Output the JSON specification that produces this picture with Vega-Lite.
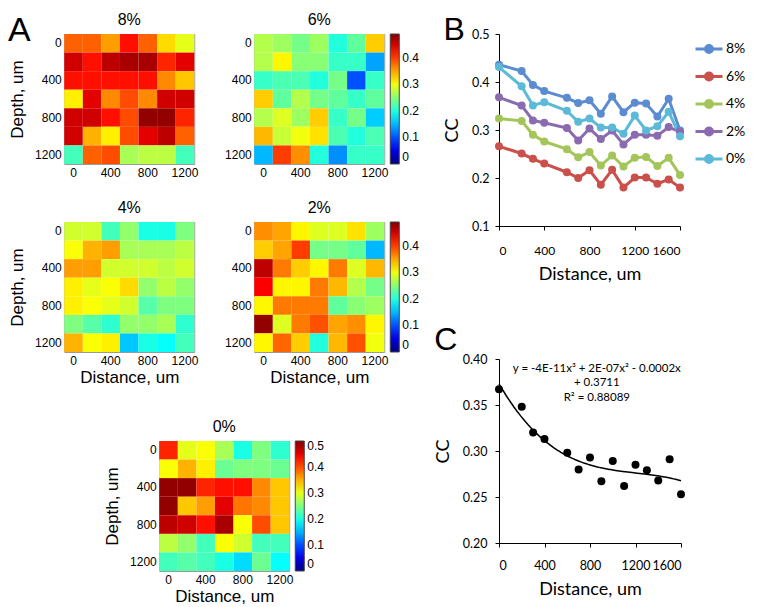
{
"$schema":"https://vega.github.io/schema/vega-lite/v6.json",
"padding":{"left":8,"top":6,"right":4,"bottom":0},
"config":{
 "font":"Liberation Sans",
 "view":{"stroke":"#9a9a9a"},
 "axis":{"grid":false,"domain":false,"ticks":false,"labelFontSize":12,"titleFontSize":17,"titleFontWeight":"normal","labelColor":"#000","titleColor":"#000","labelPadding":3,"titlePadding":3},
 "title":{"fontSize":16,"fontWeight":"normal","offset":6,"color":"#000"},
 "legend":{"padding":0}
},
"datasets":{
"heat":[
{"panel":"8%","depth":0,"dist":0,"cc":0.39},{"panel":"8%","depth":0,"dist":200,"cc":0.39},{"panel":"8%","depth":0,"dist":400,"cc":0.36},{"panel":"8%","depth":0,"dist":600,"cc":0.43},{"panel":"8%","depth":0,"dist":800,"cc":0.39},{"panel":"8%","depth":0,"dist":1000,"cc":0.33},{"panel":"8%","depth":0,"dist":1200,"cc":0.30},
{"panel":"8%","depth":200,"dist":0,"cc":0.46},{"panel":"8%","depth":200,"dist":200,"cc":0.43},{"panel":"8%","depth":200,"dist":400,"cc":0.47},{"panel":"8%","depth":200,"dist":600,"cc":0.48},{"panel":"8%","depth":200,"dist":800,"cc":0.48},{"panel":"8%","depth":200,"dist":1000,"cc":0.42},{"panel":"8%","depth":200,"dist":1200,"cc":0.45},
{"panel":"8%","depth":400,"dist":0,"cc":0.43},{"panel":"8%","depth":400,"dist":200,"cc":0.43},{"panel":"8%","depth":400,"dist":400,"cc":0.43},{"panel":"8%","depth":400,"dist":600,"cc":0.43},{"panel":"8%","depth":400,"dist":800,"cc":0.43},{"panel":"8%","depth":400,"dist":1000,"cc":0.37},{"panel":"8%","depth":400,"dist":1200,"cc":0.34},
{"panel":"8%","depth":600,"dist":0,"cc":0.32},{"panel":"8%","depth":600,"dist":200,"cc":0.45},{"panel":"8%","depth":600,"dist":400,"cc":0.37},{"panel":"8%","depth":600,"dist":600,"cc":0.40},{"panel":"8%","depth":600,"dist":800,"cc":0.37},{"panel":"8%","depth":600,"dist":1000,"cc":0.46},{"panel":"8%","depth":600,"dist":1200,"cc":0.46},
{"panel":"8%","depth":800,"dist":0,"cc":0.46},{"panel":"8%","depth":800,"dist":200,"cc":0.46},{"panel":"8%","depth":800,"dist":400,"cc":0.43},{"panel":"8%","depth":800,"dist":600,"cc":0.40},{"panel":"8%","depth":800,"dist":800,"cc":0.49},{"panel":"8%","depth":800,"dist":1000,"cc":0.49},{"panel":"8%","depth":800,"dist":1200,"cc":0.42},
{"panel":"8%","depth":1000,"dist":0,"cc":0.46},{"panel":"8%","depth":1000,"dist":200,"cc":0.35},{"panel":"8%","depth":1000,"dist":400,"cc":0.32},{"panel":"8%","depth":1000,"dist":600,"cc":0.40},{"panel":"8%","depth":1000,"dist":800,"cc":0.45},{"panel":"8%","depth":1000,"dist":1000,"cc":0.47},{"panel":"8%","depth":1000,"dist":1200,"cc":0.39},
{"panel":"8%","depth":1200,"dist":0,"cc":0.22},{"panel":"8%","depth":1200,"dist":200,"cc":0.39},{"panel":"8%","depth":1200,"dist":400,"cc":0.40},{"panel":"8%","depth":1200,"dist":600,"cc":0.27},{"panel":"8%","depth":1200,"dist":800,"cc":0.28},{"panel":"8%","depth":1200,"dist":1000,"cc":0.28},{"panel":"8%","depth":1200,"dist":1200,"cc":0.22},

{"panel":"6%","depth":0,"dist":0,"cc":0.27},{"panel":"6%","depth":0,"dist":200,"cc":0.26},{"panel":"6%","depth":0,"dist":400,"cc":0.24},{"panel":"6%","depth":0,"dist":600,"cc":0.26},{"panel":"6%","depth":0,"dist":800,"cc":0.20},{"panel":"6%","depth":0,"dist":1000,"cc":0.23},{"panel":"6%","depth":0,"dist":1200,"cc":0.33},
{"panel":"6%","depth":200,"dist":0,"cc":0.27},{"panel":"6%","depth":200,"dist":200,"cc":0.31},{"panel":"6%","depth":200,"dist":400,"cc":0.25},{"panel":"6%","depth":200,"dist":600,"cc":0.25},{"panel":"6%","depth":200,"dist":800,"cc":0.21},{"panel":"6%","depth":200,"dist":1000,"cc":0.21},{"panel":"6%","depth":200,"dist":1200,"cc":0.14},
{"panel":"6%","depth":400,"dist":0,"cc":0.21},{"panel":"6%","depth":400,"dist":200,"cc":0.22},{"panel":"6%","depth":400,"dist":400,"cc":0.22},{"panel":"6%","depth":400,"dist":600,"cc":0.20},{"panel":"6%","depth":400,"dist":800,"cc":0.24},{"panel":"6%","depth":400,"dist":1000,"cc":0.10},{"panel":"6%","depth":400,"dist":1200,"cc":0.21},
{"panel":"6%","depth":600,"dist":0,"cc":0.33},{"panel":"6%","depth":600,"dist":200,"cc":0.23},{"panel":"6%","depth":600,"dist":400,"cc":0.27},{"panel":"6%","depth":600,"dist":600,"cc":0.24},{"panel":"6%","depth":600,"dist":800,"cc":0.23},{"panel":"6%","depth":600,"dist":1000,"cc":0.21},{"panel":"6%","depth":600,"dist":1200,"cc":0.23},
{"panel":"6%","depth":800,"dist":0,"cc":0.27},{"panel":"6%","depth":800,"dist":200,"cc":0.29},{"panel":"6%","depth":800,"dist":400,"cc":0.26},{"panel":"6%","depth":800,"dist":600,"cc":0.33},{"panel":"6%","depth":800,"dist":800,"cc":0.21},{"panel":"6%","depth":800,"dist":1000,"cc":0.24},{"panel":"6%","depth":800,"dist":1200,"cc":0.16},
{"panel":"6%","depth":1000,"dist":0,"cc":0.34},{"panel":"6%","depth":1000,"dist":200,"cc":0.28},{"panel":"6%","depth":1000,"dist":400,"cc":0.30},{"panel":"6%","depth":1000,"dist":600,"cc":0.32},{"panel":"6%","depth":1000,"dist":800,"cc":0.22},{"panel":"6%","depth":1000,"dist":1000,"cc":0.20},{"panel":"6%","depth":1000,"dist":1200,"cc":0.22},
{"panel":"6%","depth":1200,"dist":0,"cc":0.15},{"panel":"6%","depth":1200,"dist":200,"cc":0.40},{"panel":"6%","depth":1200,"dist":400,"cc":0.36},{"panel":"6%","depth":1200,"dist":600,"cc":0.20},{"panel":"6%","depth":1200,"dist":800,"cc":0.13},{"panel":"6%","depth":1200,"dist":1000,"cc":0.21},{"panel":"6%","depth":1200,"dist":1200,"cc":0.21},

{"panel":"4%","depth":0,"dist":0,"cc":0.29},{"panel":"4%","depth":0,"dist":200,"cc":0.29},{"panel":"4%","depth":0,"dist":400,"cc":0.22},{"panel":"4%","depth":0,"dist":600,"cc":0.26},{"panel":"4%","depth":0,"dist":800,"cc":0.20},{"panel":"4%","depth":0,"dist":1000,"cc":0.20},{"panel":"4%","depth":0,"dist":1200,"cc":0.25},
{"panel":"4%","depth":200,"dist":0,"cc":0.31},{"panel":"4%","depth":200,"dist":200,"cc":0.35},{"panel":"4%","depth":200,"dist":400,"cc":0.36},{"panel":"4%","depth":200,"dist":600,"cc":0.27},{"panel":"4%","depth":200,"dist":800,"cc":0.27},{"panel":"4%","depth":200,"dist":1000,"cc":0.27},{"panel":"4%","depth":200,"dist":1200,"cc":0.28},
{"panel":"4%","depth":400,"dist":0,"cc":0.36},{"panel":"4%","depth":400,"dist":200,"cc":0.36},{"panel":"4%","depth":400,"dist":400,"cc":0.29},{"panel":"4%","depth":400,"dist":600,"cc":0.29},{"panel":"4%","depth":400,"dist":800,"cc":0.29},{"panel":"4%","depth":400,"dist":1000,"cc":0.28},{"panel":"4%","depth":400,"dist":1200,"cc":0.29},
{"panel":"4%","depth":600,"dist":0,"cc":0.32},{"panel":"4%","depth":600,"dist":200,"cc":0.30},{"panel":"4%","depth":600,"dist":400,"cc":0.31},{"panel":"4%","depth":600,"dist":600,"cc":0.33},{"panel":"4%","depth":600,"dist":800,"cc":0.26},{"panel":"4%","depth":600,"dist":1000,"cc":0.28},{"panel":"4%","depth":600,"dist":1200,"cc":0.26},
{"panel":"4%","depth":800,"dist":0,"cc":0.32},{"panel":"4%","depth":800,"dist":200,"cc":0.31},{"panel":"4%","depth":800,"dist":400,"cc":0.30},{"panel":"4%","depth":800,"dist":600,"cc":0.29},{"panel":"4%","depth":800,"dist":800,"cc":0.23},{"panel":"4%","depth":800,"dist":1000,"cc":0.25},{"panel":"4%","depth":800,"dist":1200,"cc":0.25},
{"panel":"4%","depth":1000,"dist":0,"cc":0.25},{"panel":"4%","depth":1000,"dist":200,"cc":0.23},{"panel":"4%","depth":1000,"dist":400,"cc":0.21},{"panel":"4%","depth":1000,"dist":600,"cc":0.26},{"panel":"4%","depth":1000,"dist":800,"cc":0.26},{"panel":"4%","depth":1000,"dist":1000,"cc":0.27},{"panel":"4%","depth":1000,"dist":1200,"cc":0.21},
{"panel":"4%","depth":1200,"dist":0,"cc":0.35},{"panel":"4%","depth":1200,"dist":200,"cc":0.31},{"panel":"4%","depth":1200,"dist":400,"cc":0.32},{"panel":"4%","depth":1200,"dist":600,"cc":0.16},{"panel":"4%","depth":1200,"dist":800,"cc":0.20},{"panel":"4%","depth":1200,"dist":1000,"cc":0.19},{"panel":"4%","depth":1200,"dist":1200,"cc":0.22},

{"panel":"2%","depth":0,"dist":0,"cc":0.36},{"panel":"2%","depth":0,"dist":200,"cc":0.35},{"panel":"2%","depth":0,"dist":400,"cc":0.31},{"panel":"2%","depth":0,"dist":600,"cc":0.29},{"panel":"2%","depth":0,"dist":800,"cc":0.29},{"panel":"2%","depth":0,"dist":1000,"cc":0.32},{"panel":"2%","depth":0,"dist":1200,"cc":0.26},
{"panel":"2%","depth":200,"dist":0,"cc":0.33},{"panel":"2%","depth":200,"dist":200,"cc":0.35},{"panel":"2%","depth":200,"dist":400,"cc":0.40},{"panel":"2%","depth":200,"dist":600,"cc":0.24},{"panel":"2%","depth":200,"dist":800,"cc":0.24},{"panel":"2%","depth":200,"dist":1000,"cc":0.23},{"panel":"2%","depth":200,"dist":1200,"cc":0.15},
{"panel":"2%","depth":400,"dist":0,"cc":0.46},{"panel":"2%","depth":400,"dist":200,"cc":0.37},{"panel":"2%","depth":400,"dist":400,"cc":0.33},{"panel":"2%","depth":400,"dist":600,"cc":0.31},{"panel":"2%","depth":400,"dist":800,"cc":0.37},{"panel":"2%","depth":400,"dist":1000,"cc":0.29},{"panel":"2%","depth":400,"dist":1200,"cc":0.34},
{"panel":"2%","depth":600,"dist":0,"cc":0.43},{"panel":"2%","depth":600,"dist":200,"cc":0.31},{"panel":"2%","depth":600,"dist":400,"cc":0.31},{"panel":"2%","depth":600,"dist":600,"cc":0.37},{"panel":"2%","depth":600,"dist":800,"cc":0.34},{"panel":"2%","depth":600,"dist":1000,"cc":0.27},{"panel":"2%","depth":600,"dist":1200,"cc":0.24},
{"panel":"2%","depth":800,"dist":0,"cc":0.31},{"panel":"2%","depth":800,"dist":200,"cc":0.37},{"panel":"2%","depth":800,"dist":400,"cc":0.37},{"panel":"2%","depth":800,"dist":600,"cc":0.37},{"panel":"2%","depth":800,"dist":800,"cc":0.23},{"panel":"2%","depth":800,"dist":1000,"cc":0.25},{"panel":"2%","depth":800,"dist":1200,"cc":0.26},
{"panel":"2%","depth":1000,"dist":0,"cc":0.48},{"panel":"2%","depth":1000,"dist":200,"cc":0.29},{"panel":"2%","depth":1000,"dist":400,"cc":0.37},{"panel":"2%","depth":1000,"dist":600,"cc":0.39},{"panel":"2%","depth":1000,"dist":800,"cc":0.35},{"panel":"2%","depth":1000,"dist":1000,"cc":0.36},{"panel":"2%","depth":1000,"dist":1200,"cc":0.31},
{"panel":"2%","depth":1200,"dist":0,"cc":0.31},{"panel":"2%","depth":1200,"dist":200,"cc":0.38},{"panel":"2%","depth":1200,"dist":400,"cc":0.33},{"panel":"2%","depth":1200,"dist":600,"cc":0.20},{"panel":"2%","depth":1200,"dist":800,"cc":0.34},{"panel":"2%","depth":1200,"dist":1000,"cc":0.39},{"panel":"2%","depth":1200,"dist":1200,"cc":0.30},

{"panel":"0%","depth":0,"dist":0,"cc":0.42},{"panel":"0%","depth":0,"dist":200,"cc":0.30},{"panel":"0%","depth":0,"dist":400,"cc":0.31},{"panel":"0%","depth":0,"dist":600,"cc":0.27},{"panel":"0%","depth":0,"dist":800,"cc":0.20},{"panel":"0%","depth":0,"dist":1000,"cc":0.25},{"panel":"0%","depth":0,"dist":1200,"cc":0.21},
{"panel":"0%","depth":200,"dist":0,"cc":0.31},{"panel":"0%","depth":200,"dist":200,"cc":0.35},{"panel":"0%","depth":200,"dist":400,"cc":0.32},{"panel":"0%","depth":200,"dist":600,"cc":0.24},{"panel":"0%","depth":200,"dist":800,"cc":0.25},{"panel":"0%","depth":200,"dist":1000,"cc":0.25},{"panel":"0%","depth":200,"dist":1200,"cc":0.24},
{"panel":"0%","depth":400,"dist":0,"cc":0.49},{"panel":"0%","depth":400,"dist":200,"cc":0.49},{"panel":"0%","depth":400,"dist":400,"cc":0.42},{"panel":"0%","depth":400,"dist":600,"cc":0.43},{"panel":"0%","depth":400,"dist":800,"cc":0.43},{"panel":"0%","depth":400,"dist":1000,"cc":0.37},{"panel":"0%","depth":400,"dist":1200,"cc":0.34},
{"panel":"0%","depth":600,"dist":0,"cc":0.49},{"panel":"0%","depth":600,"dist":200,"cc":0.34},{"panel":"0%","depth":600,"dist":400,"cc":0.36},{"panel":"0%","depth":600,"dist":600,"cc":0.45},{"panel":"0%","depth":600,"dist":800,"cc":0.38},{"panel":"0%","depth":600,"dist":1000,"cc":0.37},{"panel":"0%","depth":600,"dist":1200,"cc":0.34},
{"panel":"0%","depth":800,"dist":0,"cc":0.47},{"panel":"0%","depth":800,"dist":200,"cc":0.46},{"panel":"0%","depth":800,"dist":400,"cc":0.43},{"panel":"0%","depth":800,"dist":600,"cc":0.48},{"panel":"0%","depth":800,"dist":800,"cc":0.31},{"panel":"0%","depth":800,"dist":1000,"cc":0.40},{"panel":"0%","depth":800,"dist":1200,"cc":0.34},
{"panel":"0%","depth":1000,"dist":0,"cc":0.28},{"panel":"0%","depth":1000,"dist":200,"cc":0.26},{"panel":"0%","depth":1000,"dist":400,"cc":0.22},{"panel":"0%","depth":1000,"dist":600,"cc":0.31},{"panel":"0%","depth":1000,"dist":800,"cc":0.29},{"panel":"0%","depth":1000,"dist":1000,"cc":0.22},{"panel":"0%","depth":1000,"dist":1200,"cc":0.22},
{"panel":"0%","depth":1200,"dist":0,"cc":0.22},{"panel":"0%","depth":1200,"dist":200,"cc":0.23},{"panel":"0%","depth":1200,"dist":400,"cc":0.22},{"panel":"0%","depth":1200,"dist":600,"cc":0.20},{"panel":"0%","depth":1200,"dist":800,"cc":0.17},{"panel":"0%","depth":1200,"dist":1000,"cc":0.24},{"panel":"0%","depth":1200,"dist":1200,"cc":0.19}
],
"lines":[
{"series":"8%","dist":0,"cc":0.436},{"series":"8%","dist":200,"cc":0.423},{"series":"8%","dist":300,"cc":0.394},{"series":"8%","dist":400,"cc":0.381},{"series":"8%","dist":600,"cc":0.367},{"series":"8%","dist":700,"cc":0.356},{"series":"8%","dist":800,"cc":0.362},{"series":"8%","dist":900,"cc":0.334},{"series":"8%","dist":1000,"cc":0.370},{"series":"8%","dist":1100,"cc":0.337},{"series":"8%","dist":1200,"cc":0.357},{"series":"8%","dist":1300,"cc":0.355},{"series":"8%","dist":1400,"cc":0.328},{"series":"8%","dist":1500,"cc":0.365},{"series":"8%","dist":1600,"cc":0.299},
{"series":"6%","dist":0,"cc":0.266},{"series":"6%","dist":200,"cc":0.251},{"series":"6%","dist":300,"cc":0.240},{"series":"6%","dist":400,"cc":0.230},{"series":"6%","dist":600,"cc":0.212},{"series":"6%","dist":700,"cc":0.200},{"series":"6%","dist":800,"cc":0.216},{"series":"6%","dist":900,"cc":0.186},{"series":"6%","dist":1000,"cc":0.217},{"series":"6%","dist":1100,"cc":0.180},{"series":"6%","dist":1200,"cc":0.201},{"series":"6%","dist":1300,"cc":0.201},{"series":"6%","dist":1400,"cc":0.188},{"series":"6%","dist":1500,"cc":0.197},{"series":"6%","dist":1600,"cc":0.180},
{"series":"4%","dist":0,"cc":0.324},{"series":"4%","dist":200,"cc":0.319},{"series":"4%","dist":300,"cc":0.290},{"series":"4%","dist":400,"cc":0.276},{"series":"4%","dist":600,"cc":0.260},{"series":"4%","dist":700,"cc":0.243},{"series":"4%","dist":800,"cc":0.254},{"series":"4%","dist":900,"cc":0.226},{"series":"4%","dist":1000,"cc":0.247},{"series":"4%","dist":1100,"cc":0.224},{"series":"4%","dist":1200,"cc":0.242},{"series":"4%","dist":1300,"cc":0.244},{"series":"4%","dist":1400,"cc":0.225},{"series":"4%","dist":1500,"cc":0.242},{"series":"4%","dist":1600,"cc":0.206},
{"series":"2%","dist":0,"cc":0.368},{"series":"2%","dist":200,"cc":0.351},{"series":"2%","dist":300,"cc":0.320},{"series":"2%","dist":400,"cc":0.315},{"series":"2%","dist":600,"cc":0.304},{"series":"2%","dist":700,"cc":0.278},{"series":"2%","dist":800,"cc":0.303},{"series":"2%","dist":900,"cc":0.281},{"series":"2%","dist":1000,"cc":0.299},{"series":"2%","dist":1100,"cc":0.270},{"series":"2%","dist":1200,"cc":0.290},{"series":"2%","dist":1300,"cc":0.290},{"series":"2%","dist":1400,"cc":0.288},{"series":"2%","dist":1500,"cc":0.306},{"series":"2%","dist":1600,"cc":0.296},
{"series":"0%","dist":0,"cc":0.431},{"series":"0%","dist":200,"cc":0.391},{"series":"0%","dist":300,"cc":0.351},{"series":"0%","dist":400,"cc":0.358},{"series":"0%","dist":600,"cc":0.340},{"series":"0%","dist":700,"cc":0.317},{"series":"0%","dist":800,"cc":0.324},{"series":"0%","dist":900,"cc":0.305},{"series":"0%","dist":1000,"cc":0.305},{"series":"0%","dist":1100,"cc":0.292},{"series":"0%","dist":1200,"cc":0.330},{"series":"0%","dist":1300,"cc":0.299},{"series":"0%","dist":1400,"cc":0.308},{"series":"0%","dist":1500,"cc":0.338},{"series":"0%","dist":1600,"cc":0.287}
],
"avg":[
{"dist":0,"cc":0.367},{"dist":200,"cc":0.348},{"dist":300,"cc":0.320},{"dist":400,"cc":0.313},{"dist":600,"cc":0.298},{"dist":700,"cc":0.280},{"dist":800,"cc":0.293},{"dist":900,"cc":0.267},{"dist":1000,"cc":0.289},{"dist":1100,"cc":0.262},{"dist":1200,"cc":0.285},{"dist":1300,"cc":0.279},{"dist":1400,"cc":0.268},{"dist":1500,"cc":0.291},{"dist":1600,"cc":0.253}
],
"eq":[{"label":"y = -4E-11x³ + 2E-07x² - 0.0002x\n+ 0.3711\nR² = 0.88089","at_dist":860,"at_cc":0.396}]
},
"hconcat":[
 {
  "title":{"text":"A","anchor":"start","fontSize":34,"offset":-36},
  "center":true,
  "spacing":32,
  "resolve":{"scale":{"color":"independent","x":"independent","y":"independent"},"legend":{"color":"independent"}},
  "vconcat":[
   {
    "spacing":20,
    "resolve":{"scale":{"color":"independent","x":"independent","y":"independent"},"legend":{"color":"independent"}},
    "vconcat":[
   {
    "spacing":24,
    "resolve":{"scale":{"color":"independent","x":"independent","y":"independent"},"legend":{"color":"independent"}},
    "hconcat":[
     {"title":"8%","width":130,"height":130,"data":{"name":"heat"},"transform":[{"filter":"datum.panel === '8%'"}],"mark":"rect",
      "encoding":{
       "x":{"field":"dist","type":"ordinal","title":null,"axis":{"values":[0,400,800,1200],"labelAngle":0}},
       "y":{"field":"depth","type":"ordinal","title":"Depth, um","axis":{"values":[0,400,800,1200],"titlePadding":8}},
       "color":{"field":"cc","type":"quantitative","scale":{"domain":[0,0.5],"interpolate":"rgb","range":["#00007F","#0000FF","#007FFF","#00FFFF","#7FFF7F","#FFFF00","#FF7F00","#FF0000","#7F0000"]},"legend":null}}},
     {"title":"6%","width":130,"height":130,"data":{"name":"heat"},"transform":[{"filter":"datum.panel === '6%'"}],"mark":"rect",
      "encoding":{
       "x":{"field":"dist","type":"ordinal","title":null,"axis":{"values":[0,400,800,1200],"labelAngle":0}},
       "y":{"field":"depth","type":"ordinal","title":null,"axis":{"values":[0,400,800,1200]}},
       "color":{"field":"cc","type":"quantitative","scale":{"domain":[0,0.49],"interpolate":"rgb","range":["#00007F","#0000FF","#007FFF","#00FFFF","#7FFF7F","#FFFF00","#FF7F00","#FF0000","#7F0000"]},
        "legend":{"title":null,"orient":"right","offset":6,"gradientLength":130,"gradientThickness":9,"gradientStrokeColor":"#444","gradientStrokeWidth":1,"values":[0,0.1,0.2,0.3,0.4],"format":".1~f","labelFontSize":12,"labelOffset":3,"labelOverlap":false,"labelColor":"#000"}}}}
    ]
   },
   {
    "spacing":24,
    "resolve":{"scale":{"color":"independent","x":"independent","y":"independent"},"legend":{"color":"independent"}},
    "hconcat":[
     {"title":"4%","width":130,"height":130,"data":{"name":"heat"},"transform":[{"filter":"datum.panel === '4%'"}],"mark":"rect",
      "encoding":{
       "x":{"field":"dist","type":"ordinal","title":"Distance, um","axis":{"values":[0,400,800,1200],"labelAngle":0}},
       "y":{"field":"depth","type":"ordinal","title":"Depth, um","axis":{"values":[0,400,800,1200],"titlePadding":8}},
       "color":{"field":"cc","type":"quantitative","scale":{"domain":[0,0.5],"interpolate":"rgb","range":["#00007F","#0000FF","#007FFF","#00FFFF","#7FFF7F","#FFFF00","#FF7F00","#FF0000","#7F0000"]},"legend":null}}},
     {"title":"2%","width":130,"height":130,"data":{"name":"heat"},"transform":[{"filter":"datum.panel === '2%'"}],"mark":"rect",
      "encoding":{
       "x":{"field":"dist","type":"ordinal","title":"Distance, um","axis":{"values":[0,400,800,1200],"labelAngle":0}},
       "y":{"field":"depth","type":"ordinal","title":null,"axis":{"values":[0,400,800,1200]}},
       "color":{"field":"cc","type":"quantitative","scale":{"domain":[0,0.49],"interpolate":"rgb","range":["#00007F","#0000FF","#007FFF","#00FFFF","#7FFF7F","#FFFF00","#FF7F00","#FF0000","#7F0000"]},
        "legend":{"title":null,"orient":"right","offset":6,"gradientLength":130,"gradientThickness":9,"gradientStrokeColor":"#444","gradientStrokeWidth":1,"values":[0,0.1,0.2,0.3,0.4],"format":".1~f","labelFontSize":12,"labelOffset":3,"labelOverlap":false,"labelColor":"#000"}}}}
    ]
   }
    ]
   },
   {"title":"0%","width":130,"height":130,"data":{"name":"heat"},"transform":[{"filter":"datum.panel === '0%'"}],"mark":"rect",
    "encoding":{
     "x":{"field":"dist","type":"ordinal","title":"Distance, um","axis":{"values":[0,400,800,1200],"labelAngle":0}},
     "y":{"field":"depth","type":"ordinal","title":"Depth, um","axis":{"values":[0,400,800,1200],"titlePadding":8}},
     "color":{"field":"cc","type":"quantitative","scale":{"domain":[0,0.5],"interpolate":"rgb","range":["#00007F","#0000FF","#007FFF","#00FFFF","#7FFF7F","#FFFF00","#FF7F00","#FF0000","#7F0000"]},
      "legend":{"title":null,"orient":"right","offset":6,"gradientLength":130,"gradientThickness":9,"gradientStrokeColor":"#444","gradientStrokeWidth":1,"values":[0,0.1,0.2,0.3,0.4,0.5],"format":".1~f","labelFontSize":12,"labelOffset":3,"labelOverlap":false,"labelColor":"#000"}}}}
  ]
 },
 {
  "spacing":41,
  "resolve":{"scale":{"color":"independent","stroke":"independent","x":"independent","y":"independent"},"legend":{"color":"independent","stroke":"independent"}},
  "vconcat":[
   {
    "title":{"text":["","B"],"lineHeight":8,"anchor":"start","fontSize":32,"offset":-19},
    "width":181,"height":192,
    "view":{"stroke":null},
    "data":{"name":"lines"},
    "encoding":{
     "x":{"field":"dist","type":"quantitative","scale":{"domain":[0,1600],"nice":false},"title":"Distance, um",
      "axis":{"values":[0,400,800,1200,1600],"format":"d","labelOverlap":false,"domain":true,"domainColor":"#000","ticks":true,"tickColor":"#000","tickSize":4,"labelFont":"Lato","labelFontSize":12,"titleFont":"Lato","titleFontSize":18,"labelPadding":15,"titlePadding":9}},
     "y":{"field":"cc","type":"quantitative","scale":{"domain":[0.1,0.5],"nice":false},"title":"CC",
      "axis":{"values":[0.1,0.2,0.3,0.4,0.5],"format":".1f","domain":true,"domainColor":"#000","ticks":true,"tickColor":"#000","tickSize":4,"labelFont":"Lato","labelFontSize":12.5,"titleFont":"Lato","titleFontSize":18,"labelPadding":6,"titlePadding":10}}
    },
    "layer":[
     {"mark":{"type":"line","strokeWidth":3},
      "encoding":{"stroke":{"field":"series","type":"nominal","sort":null,"scale":{"domain":["8%","6%","4%","2%","0%"],"range":["#5B8BD0","#C9504B","#A4C55A","#8A6BB0","#5DB9D8"]},
       "legend":{"title":null,"orient":"right","offset":8,"symbolType":"M-1,0L1,0M-0.26,0A0.26,0.26,0,1,1,0.26,0A0.26,0.26,0,1,1,-0.26,0Z","symbolSize":729,"symbolStrokeWidth":3,"labelFont":"Lato","labelFontSize":14,"labelColor":"#000","rowPadding":2.5,"labelOffset":2}}}},
     {"mark":{"type":"circle","size":64,"opacity":1},
      "encoding":{"color":{"field":"series","type":"nominal","sort":null,"scale":{"domain":["8%","6%","4%","2%","0%"],"range":["#5B8BD0","#C9504B","#A4C55A","#8A6BB0","#5DB9D8"]},
       "legend":{"title":null,"orient":"right","offset":8,"symbolType":"M-1,0L1,0M-0.26,0A0.26,0.26,0,1,1,0.26,0A0.26,0.26,0,1,1,-0.26,0Z","symbolSize":729,"symbolStrokeWidth":3,"labelFont":"Lato","labelFontSize":14,"labelColor":"#000","rowPadding":2.5,"labelOffset":2}}}}
    ]
   },
   {
    "title":{"text":"C","anchor":"start","fontSize":32,"offset":-4},
    "width":182,"height":184,
    "view":{"stroke":null},
    "layer":[
     {"data":{"name":"avg"},"mark":{"type":"circle","size":64,"color":"#000","opacity":1},
      "encoding":{
       "x":{"field":"dist","type":"quantitative","scale":{"domain":[0,1600],"nice":false},"title":"Distance, um",
        "axis":{"values":[0,400,800,1200,1600],"format":"d","labelOverlap":false,"domain":true,"domainColor":"#000","ticks":true,"tickColor":"#000","tickSize":4,"labelFont":"Lato","labelFontSize":12.5,"titleFont":"Lato","titleFontSize":18,"labelPadding":12,"titlePadding":9}},
       "y":{"field":"cc","type":"quantitative","scale":{"domain":[0.2,0.4],"nice":false},"title":"CC",
        "axis":{"values":[0.2,0.25,0.3,0.35,0.4],"format":".2f","domain":true,"domainColor":"#000","ticks":true,"tickColor":"#000","tickSize":4,"labelFont":"Lato","labelFontSize":12.5,"titleFont":"Lato","titleFontSize":18,"labelPadding":8,"titlePadding":10}}}},
     {"data":{"name":"avg"},"transform":[{"regression":"cc","on":"dist","method":"poly","order":3}],"mark":{"type":"line","color":"#000","strokeWidth":1.5},
      "encoding":{"x":{"field":"dist","type":"quantitative"},"y":{"field":"cc","type":"quantitative"}}},
     {"data":{"name":"eq"},"mark":{"type":"text","font":"Lato","fontSize":11.5,"align":"center","baseline":"top","lineHeight":14.5,"lineBreak":"\n","color":"#000"},
      "encoding":{"x":{"field":"at_dist","type":"quantitative"},"y":{"field":"at_cc","type":"quantitative"},"text":{"field":"label"}}}
    ]
   }
  ]
 }
],
"spacing":14,
"resolve":{"scale":{"color":"independent","stroke":"independent","x":"independent","y":"independent"},"legend":{"color":"independent","stroke":"independent"}}
}
